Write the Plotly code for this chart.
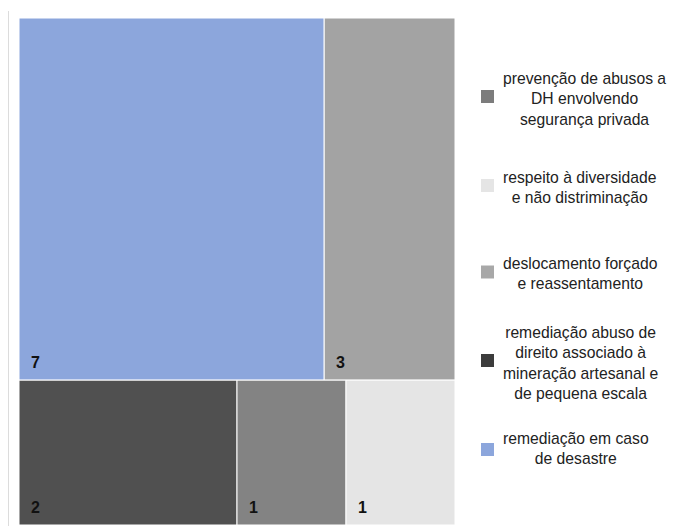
import plotly.graph_objects as go

# ---- data ----
categories = [
    "remediação em caso de desastre",
    "deslocamento forçado e reassentamento",
    "remediação abuso de direito associado à mineração artesanal e de pequena escala",
    "prevenção de abusos a DH envolvendo segurança privada",
    "respeito à diversidade e não distriminação",
]
values = [7, 3, 2, 1, 1]
# row grouping used only to reproduce the reference tiling (rows of the treemap)
row_group = ["linha 1", "linha 1", "linha 2", "linha 2", "linha 2"]
groups = ["linha 1", "linha 2"]

cell_colors = ["#8ca6dc", "#a3a3a3", "#505050", "#838383", "#e5e5e5"]
swatch_colors = ["#8ca6dc", "#a8a8a8", "#3c3c3c", "#7c7c7c", "#e5e5e5"]

legend_order = [3, 4, 1, 2, 0]
legend_text = {
    0: "remediação em caso<br>de desastre",
    1: "deslocamento forçado<br>e reassentamento",
    2: "remediação abuso de<br>direito associado à<br>mineração artesanal e<br>de pequena escala",
    3: "prevenção de abusos a<br>DH envolvendo<br>segurança privada",
    4: "respeito à diversidade<br>e não distriminação",
}
legend_block_centers = [99, 187, 273, 362.5, 448]
legend_swatch_centers = [96.5, 185.5, 272, 360.5, 449.5]

W, H = 693, 528
OFF = 8  # page body margin


def px(sx):
    return (sx - OFF) / W


def py(sy):
    return 1 - (sy - OFF) / H


ids = categories + groups
parents = row_group + [""] * len(groups)
vals = values + [0] * len(groups)
colors = cell_colors + ["#ffffff"] * len(groups)
leaf_tpl = ("<span style='font-size:16px;font-weight:bold'>\u00a0\u00a0%{value}</span>"
            "<br>\u00a0")
templates = [leaf_tpl] * len(categories) + [""] * len(groups)

fig = go.Figure(go.Treemap(
    ids=ids,
    labels=ids,
    parents=parents,
    values=vals,
    branchvalues="remainder",
    sort=True,
    marker=dict(colors=colors, line=dict(color="white", width=1),
                pad=dict(t=0, l=0, r=0, b=0)),
    tiling=dict(packing="dice-slice", pad=0),
    pathbar=dict(visible=False),
    texttemplate=templates,
    textposition="bottom left",
    textfont=dict(family="Liberation Sans, Arial", size=6, color="#111111"),
    hoverinfo="skip",
    domain=dict(x=[px(19), px(455)], y=[py(525), py(18)]),
))

shapes = []
annotations = []
# faint left axis line
shapes.append(dict(type="line", xref="paper", yref="paper",
                   x0=0.5 / W, x1=0.5 / W, y0=py(526), y1=py(11),
                   line=dict(color="#dcdcdc", width=1)))

s = 13
for idx, cy, sc in zip(legend_order, legend_block_centers, legend_swatch_centers):
    shapes.append(dict(type="rect", xref="paper", yref="paper",
                       x0=px(481), x1=px(481 + s),
                       y0=py(sc + s / 2), y1=py(sc - s / 2),
                       fillcolor=swatch_colors[idx], line=dict(width=0)))
    annotations.append(dict(xref="paper", yref="paper", x=px(501), y=py(cy),
                            text=legend_text[idx], showarrow=False, align="center",
                            xanchor="left", yanchor="middle",
                            font=dict(family="Liberation Sans, Arial", size=15.7,
                                      color="#222222")))

fig.update_layout(
    width=W, height=H,
    margin=dict(l=0, r=0, t=0, b=0),
    paper_bgcolor="white", plot_bgcolor="white",
    shapes=shapes, annotations=annotations,
    showlegend=False,
)

fig.write_html("out.html")
